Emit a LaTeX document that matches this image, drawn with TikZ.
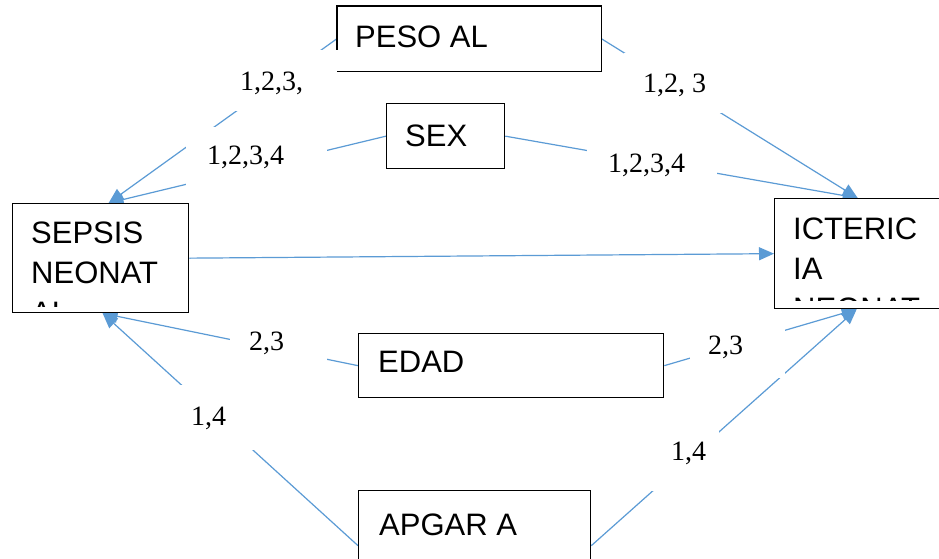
\documentclass[tikz,border=0pt]{standalone}
\usepackage{fontspec}
\setmainfont{Liberation Serif}
\newfontfamily\boxfont{Liberation Sans}
\usetikzlibrary{arrows.meta,calc}
\definecolor{linkblue}{HTML}{5B9BD5}
\begin{document}
\begin{tikzpicture}[x=1pt,y=-1pt,
  conn/.style={draw=linkblue,line width=1.2pt,-{Triangle[length=15pt,width=13pt]}},
  plainconn/.style={draw=linkblue,line width=1.2pt},
  frame/.style={draw=black,line width=1.3pt,fill=white,inner sep=0pt,anchor=north west},
  gapbox/.style={fill=white,draw=none,inner sep=0pt,anchor=north west},
  boxtext/.style={inner sep=0pt,anchor=base west,font=\boxfont\fontsize{31}{40}\selectfont},
  numtext/.style={inner sep=0pt,anchor=base west,font=\fontsize{28}{32}\selectfont}]
\useasboundingbox (0,0) rectangle (939,558);
\fill[white] (0,0) rectangle (939,558);

% boxes (positions)
\node[frame,minimum width=263pt,minimum height=64pt,draw=none] (peso) at (337,6) {};
\node[frame,minimum width=118pt,minimum height=65pt] (sex) at (386,103) {};
\node[frame,minimum width=176pt,minimum height=109pt] (sepsis) at (12,203) {};
\node[frame,minimum width=190pt,minimum height=110pt] (icter) at (774,198) {};
\node[frame,minimum width=305pt,minimum height=64pt] (edad) at (358,333) {};
\node[frame,minimum width=232pt,minimum height=110pt] (apgar) at (358,490) {};

% connectors
\draw[conn] (peso.west) -- ([xshift=8pt]sepsis.north);
\draw[conn] (sex.west) -- ([xshift=8pt]sepsis.north);
\draw[conn] (peso.east) -- ([xshift=-12pt]icter.north);
\draw[conn] (sex.east) -- ([xshift=-12pt]icter.north);
\draw[conn] (sepsis.east) -- (icter.west);
\draw[conn] (edad.west) -- ([xshift=2pt]sepsis.south);
\draw[conn] (apgar.west) -- ([xshift=2pt]sepsis.south);
\draw[conn] (edad.east) -- ([xshift=-13pt]icter.south);
\draw[conn] (apgar.east) -- ([xshift=-13pt]icter.south);

% label backgrounds
\node[gapbox,minimum width=97pt,minimum height=61pt] (g1) at (228,50) {};
\node[gapbox,minimum width=98pt,minimum height=60pt] (g2) at (624,53) {};
\node[gapbox,minimum width=141pt,minimum height=58pt] (g3) at (186,127) {};
\node[gapbox,minimum width=130pt,minimum height=56pt] (g4) at (587,134) {};
\node[gapbox,minimum width=97pt,minimum height=51pt] (g5) at (230,315) {};
\node[gapbox,minimum width=87pt,minimum height=65pt] (g6) at (172,385) {};
\node[gapbox,minimum width=95pt,minimum height=56pt] (g7) at (690,322) {};
\node[gapbox,minimum width=68pt,minimum height=73pt] (g8) at (651,418) {};

% labels
\node[numtext] (l1) at (240,90) {1,2,3,};
\node[numtext] (l2) at (643,92) {1,2, 3};
\node[numtext] (l3) at (207,164) {1,2,3,4};
\node[numtext] (l4) at (608,172) {1,2,3,4};
\node[numtext] (l5) at (249,350) {2,3};
\node[numtext] (l6) at (191,425) {1,4};
\node[numtext] (l7) at (708,354) {2,3};
\node[numtext] (l8) at (671,460) {1,4};

% redraw box frames on top
\draw[black,line width=1.3pt,fill=white] (peso.south west) -- (peso.south east) -- (peso.north east) -- (peso.north west) -- ($(peso.north west)+(0,44)$);
\fill[white] (peso.south west) rectangle (peso.north east);
\draw[black,line width=1.3pt] ($(peso.south west)+(1,0)$) -- (peso.south east) -- (peso.north east) -- (peso.north west) -- ($(peso.north west)+(0,44)$);
\node[frame,minimum width=118pt,minimum height=65pt] (sexf) at (386,103) {};
\node[frame,minimum width=176pt,minimum height=109pt] (sepsisf) at (12,203) {};
\node[frame,minimum width=190pt,minimum height=110pt] (icterf) at (774,198) {};
\node[frame,minimum width=305pt,minimum height=64pt] (edadf) at (358,333) {};
\node[frame,minimum width=232pt,minimum height=110pt] (apgarf) at (358,490) {};

% box texts
\node[boxtext] (tpeso) at (355,47) {PESO AL};
\node[boxtext] (tsex) at (405,146) {SEX};
\begin{scope}
\clip (12,203) rectangle (188,306);
\node[boxtext] (tsep1) at (31,243) {SEPSIS};
\node[boxtext] (tsep2) at (31,283) {NEONAT};
\node[boxtext] (tsep3) at (31,323) {AL};
\end{scope}
\begin{scope}
\clip (774,198) rectangle (939,300);
\node[boxtext] (tict1) at (793,239) {ICTERIC};
\node[boxtext] (tict2) at (793,279) {IA};
\node[boxtext] (tict3) at (793,319) {NEONAT};
\end{scope}
\node[boxtext] (tedad) at (378,372) {EDAD};
\node[boxtext] (tapgar) at (379,535) {APGAR A};
\end{tikzpicture}
\end{document}
